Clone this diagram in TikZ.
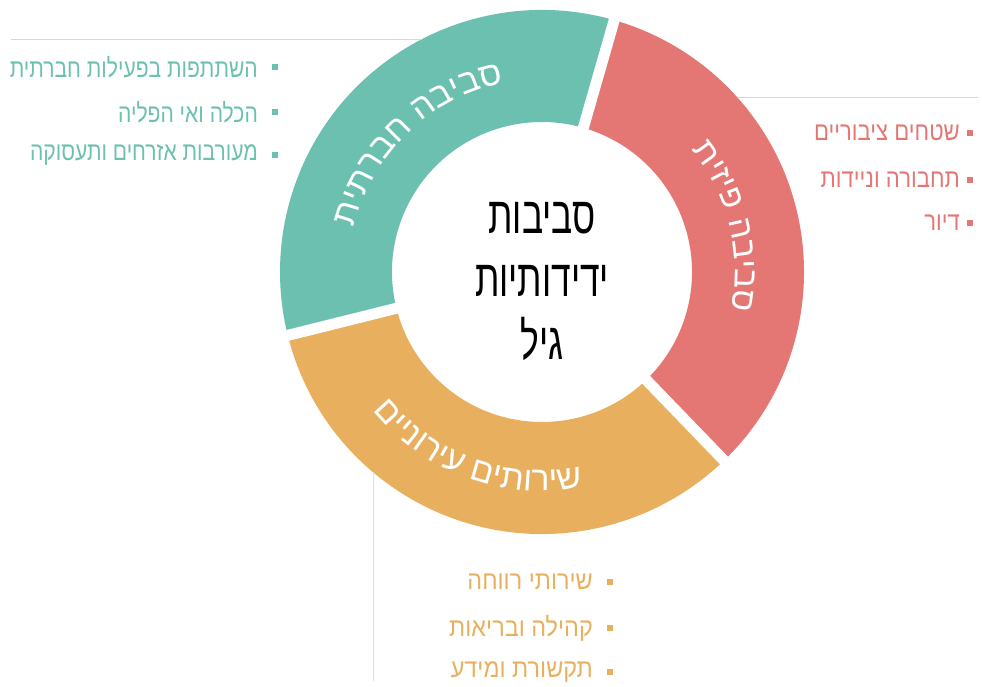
\documentclass[tikz,border=0pt]{standalone}
\usepackage{fontspec}
\setmainfont{Liberation Sans}
\TeXXeTstate=1
\newfontfamily\hebC[Script=Hebrew,FakeStretch=0.68]{Liberation Sans}
\newfontfamily\hebR[Script=Hebrew]{Liberation Sans}
\newfontfamily\hebLt[Script=Hebrew,FakeStretch=0.81]{Liberation Sans}
\newfontfamily\hebLr[Script=Hebrew,FakeStretch=0.85]{Liberation Sans}
\newfontfamily\hebLo[Script=Hebrew,FakeStretch=0.9]{Liberation Sans}
\usetikzlibrary{calc,decorations.text}
\definecolor{tealc}{RGB}{108,192,176}
\definecolor{redc}{RGB}{228,118,116}
\definecolor{orangec}{RGB}{232,176,94}
\definecolor{tealline}{RGB}{192,226,219}
\definecolor{redline}{RGB}{242,204,203}
\definecolor{orangeline}{RGB}{243,220,184}
\tikzset{
  bulletsq/.style={rectangle, minimum size=6pt, inner sep=0pt, draw=none},
  listlabel/.style={anchor=east, inner sep=0pt},
  tlist/.style={listlabel, text=tealc, font=\hebLt\fontsize{26}{30}\selectfont},
  rlist/.style={listlabel, text=redc, font=\hebLr\fontsize{26}{30}\selectfont},
  olist/.style={listlabel, text=orangec, font=\hebLo\fontsize{26}{30}\selectfont},
  gapline/.style={white, line width=11pt},
  guideline/.style={line width=0.8pt},
  ringtext/.style={decorate, decoration={text along path, text align=center}}
}
\begin{document}
\begin{tikzpicture}[x=1pt,y=1pt]
\useasboundingbox (0,0) rectangle (982,687);
\coordinate (C) at (542,415);
% ring segments
\fill[tealc] ($(C)+(74:262)$) arc[start angle=74,end angle=194,radius=262]
  -- ($(C)+(194:150)$) arc[start angle=194,end angle=74,radius=150] -- cycle;
\fill[orangec] ($(C)+(194:262)$) arc[start angle=194,end angle=314,radius=262]
  -- ($(C)+(314:150)$) arc[start angle=314,end angle=194,radius=150] -- cycle;
\fill[redc] ($(C)+(-46:262)$) arc[start angle=-46,end angle=74,radius=262]
  -- ($(C)+(74:150)$) arc[start angle=74,end angle=-46,radius=150] -- cycle;
% gaps
\draw[gapline] (C) -- ($(C)+(74:275)$);
\draw[gapline] (C) -- ($(C)+(194:275)$);
\draw[gapline] (C) -- ($(C)+(314:275)$);
% guide lines
\coordinate (tA) at (11,648);
\coordinate (tB) at (422,648);
\draw[guideline, tealline] (tA) -- (tB);
\coordinate (rA) at (737,590);
\coordinate (rB) at (978,590);
\draw[guideline, redline] (rA) -- (rB);
\coordinate (oA) at (373,215);
\coordinate (oB) at (373,6);
\draw[guideline, orangeline] (oA) -- (oB);
% ring texts (Hebrew letters placed one by one along the arc, in visual order)
\path[ringtext, decoration={text={|\hebR\fontsize{34}{40}\selectfont\color{white}|תיתרבח הביבס}}]
  ($(C)+(194:193)$) arc[start angle=194,end angle=74,radius=193];
\path[ringtext, decoration={text={|\hebR\fontsize{33}{40}\selectfont\color{white}|תיזיפ הביבס}}]
  ($(C)+(74:193)$) arc[start angle=74,end angle=-46,radius=193];
\path[ringtext, decoration={text={|\hebR\fontsize{34}{40}\selectfont\color{white}|םיינוריע םיתוריש}}]
  ($(C)+(190:219)$) arc[start angle=190,end angle=310,radius=219];
% center title
\node[align=center, font=\hebC\fontsize{52}{63}\selectfont] (title) at (542,405)
  {\beginR סביבות\endR\\\beginR ידידותיות\endR\\\beginR גיל\endR};
% teal list
\node[bulletsq, fill=tealc] (tb1) at (275,620) {};
\node[bulletsq, fill=tealc] (tb2) at (275,575) {};
\node[bulletsq, fill=tealc] (tb3) at (275,532) {};
\node[tlist] (t1) at (258,620) {\beginR השתתפות בפעילות חברתית\endR};
\node[tlist] (t2) at (258,575) {\beginR הכלה ואי הפליה\endR};
\node[tlist] (t3) at (258,532) {\beginR מעורבות אזרחים ותעסוקה\endR};
% red list
\node[bulletsq, fill=redc] (rb1) at (970,554) {};
\node[bulletsq, fill=redc] (rb2) at (970,507) {};
\node[bulletsq, fill=redc] (rb3) at (970,464) {};
\node[rlist] (r1) at (960,554) {\beginR שטחים ציבוריים\endR};
\node[rlist] (r2) at (960,507) {\beginR תחבורה וניידות\endR};
\node[rlist] (r3) at (960,464) {\beginR דיור\endR};
% orange list
\node[bulletsq, fill=orangec] (ob1) at (610,105) {};
\node[bulletsq, fill=orangec] (ob2) at (610,59) {};
\node[bulletsq, fill=orangec] (ob3) at (610,15) {};
\node[olist] (o1) at (593,105) {\beginR שירותי רווחה\endR};
\node[olist] (o2) at (593,59) {\beginR קהילה ובריאות\endR};
\node[olist] (o3) at (593,15) {\beginR תקשורת ומידע\endR};
\end{tikzpicture}
\end{document}
